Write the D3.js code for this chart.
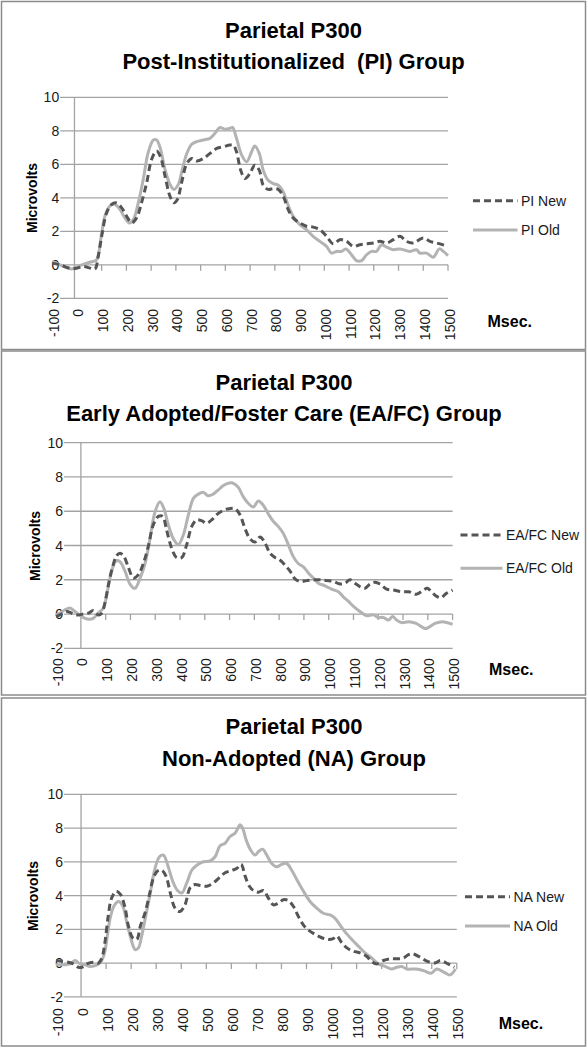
<!DOCTYPE html>
<html><head><meta charset="utf-8">
<script src="https://cdn.jsdelivr.net/npm/d3@7"></script>
<style>html,body{margin:0;padding:0;background:#fff;}svg{display:block;}</style>
</head><body><svg id="c" width="588" height="1050"></svg>
<script>
// ---- data (ms, microvolts) ----
const xTicks = [-100,0,100,200,300,400,500,600,700,800,900,1000,1100,1200,1300,1400,1500];
const yTicks = [-2,0,2,4,6,8,10];
const titles = [
  ["Parietal P300","Post-Institutionalized  (PI) Group"],
  ["Parietal P300","Early Adopted/Foster Care (EA/FC) Group"],
  ["Parietal P300","Non-Adopted (NA) Group"]
];
const seriesNames = [["PI New","PI Old"],["EA/FC New","EA/FC Old"],["NA New","NA Old"]];

const piNew = [[-100,0.1],[-69,0],[-28,-0.2],[-1,-0.2],[26,-0.1],[53,-0.2],[73,-0.25],[86,0.5],[100,1.7],[120,3.1],[140,3.6],[158,3.7],[181,3.4],[201,2.9],[221,2.5],[241,2.8],[261,3.7],[282,4.9],[302,6.3],[322,6.8],[338,6.45],[356,5.3],[376,4.1],[392,3.7],[406,3.9],[423,4.9],[443,6.0],[464,6.35],[484,6.2],[511,6.35],[538,6.65],[565,6.95],[592,7.05],[619,7.15],[632,7.15],[645,6.75],[662,5.65],[679,5.15],[699,5.45],[719,5.95],[737,5.65],[753,4.75],[773,4.5],[794,4.55],[814,4.5],[834,4.1],[854,3.3],[874,2.8],[901,2.5],[928,2.3],[955,2.25],[982,2.1],[1009,1.7],[1036,1.25],[1063,1.5],[1090,1.4],[1117,1.1],[1144,1.2],[1171,1.25],[1198,1.3],[1225,1.4],[1252,1.3],[1279,1.5],[1306,1.7],[1332,1.4],[1359,1.3],[1400,1.6],[1427,1.4],[1454,1.3],[1500,1.1]];
const piOld = [[-100,0.2],[-69,0],[-22,-0.25],[12,-0.05],[39,0.1],[66,0.2],[80,0.3],[100,1.9],[113,2.9],[133,3.5],[154,3.6],[174,3.3],[194,2.8],[212,2.5],[228,2.7],[248,3.7],[268,5.1],[288,6.7],[309,7.45],[322,7.45],[336,7.0],[356,5.7],[376,4.8],[392,4.5],[410,4.8],[423,5.5],[443,6.6],[464,7.2],[484,7.35],[511,7.45],[538,7.55],[558,7.85],[578,8.2],[598,8.1],[619,8.15],[629,8.2],[645,7.55],[666,6.55],[686,6.15],[706,6.75],[719,7.1],[737,6.65],[753,5.65],[773,5.05],[794,4.85],[814,4.75],[834,4.35],[854,3.55],[874,2.9],[901,2.4],[928,2.1],[955,1.7],[982,1.4],[1009,1.1],[1029,0.7],[1050,0.8],[1070,0.8],[1087,0.95],[1110,0.6],[1130,0.25],[1151,0.25],[1171,0.6],[1191,0.8],[1211,0.8],[1231,1.2],[1252,1.05],[1279,0.9],[1306,0.95],[1346,0.8],[1373,0.9],[1386,0.7],[1413,0.7],[1440,0.45],[1465,0.95],[1481,0.8],[1500,0.55]];
const eaNew = [[-100,-0.15],[-78,0],[-57,0.15],[-37,0.05],[-17,-0.05],[10,0],[30,0.05],[50,0.2],[70,-0.05],[84,0.05],[97,0.65],[111,1.7],[128,2.75],[144,3.4],[158,3.55],[174,3.35],[191,2.75],[212,2.1],[232,2.3],[252,2.95],[272,3.95],[292,5.2],[313,5.7],[330,5.7],[346,4.9],[366,3.85],[386,3.3],[407,3.3],[427,4.05],[447,5.1],[467,5.5],[487,5.45],[508,5.3],[528,5.5],[548,5.8],[575,6.05],[599,6.15],[622,6.15],[642,5.8],[662,5.0],[682,4.4],[703,4.2],[723,4.5],[743,4.15],[763,3.55],[783,3.3],[803,3.15],[824,2.85],[844,2.5],[864,2.05],[884,1.9],[911,1.95],[938,2.0],[965,2.0],[992,1.95],[1019,1.9],[1046,1.75],[1066,1.8],[1086,2.0],[1106,1.8],[1126,1.6],[1146,1.5],[1167,1.75],[1187,1.85],[1207,1.75],[1234,1.45],[1261,1.4],[1294,1.3],[1323,1.3],[1353,1.15],[1383,1.4],[1398,1.5],[1429,1.1],[1452,0.95],[1474,1.2],[1500,1.4]];
const eaOld = [[-100,-0.05],[-84,0.05],[-64,0.25],[-44,0.35],[-24,0.15],[3,-0.15],[30,-0.3],[50,-0.25],[70,0.05],[91,0.35],[104,1.1],[124,2.5],[142,3.1],[158,3.05],[178,2.5],[198,1.75],[218,1.5],[239,2.1],[259,2.95],[279,4.4],[299,5.95],[319,6.55],[335,6.15],[353,5.2],[373,4.4],[393,4.05],[413,4.6],[434,5.8],[454,6.75],[474,7.0],[494,7.1],[514,6.9],[534,7.0],[555,7.25],[575,7.5],[599,7.65],[612,7.65],[635,7.4],[655,6.85],[676,6.45],[696,6.25],[716,6.6],[736,6.35],[756,5.85],[777,5.4],[797,5.1],[817,4.7],[837,4.05],[857,3.35],[877,2.95],[898,2.75],[918,2.4],[938,2.1],[958,1.8],[985,1.65],[1012,1.45],[1039,1.3],[1059,1.0],[1079,0.75],[1100,0.45],[1126,0.15],[1153,-0.1],[1180,-0.05],[1200,-0.2],[1220,-0.2],[1241,-0.35],[1258,-0.15],[1274,-0.35],[1294,-0.5],[1323,-0.45],[1353,-0.55],[1391,-0.85],[1429,-0.55],[1459,-0.45],[1500,-0.6]];
const naNew = [[-100,0.15],[-51,0.05],[-31,-0.05],[-11,-0.25],[3,-0.25],[23,-0.05],[49,0.05],[69,0],[83,0.3],[96,1.3],[109,2.85],[122,3.85],[140,4.25],[158,4.05],[176,3.25],[189,2.2],[206,1.5],[222,1.4],[238,2.25],[255,2.95],[273,4.05],[289,5.05],[305,5.45],[322,5.5],[339,5.15],[358,4.05],[375,3.25],[395,3.05],[415,3.45],[435,4.45],[455,4.65],[475,4.6],[502,4.55],[528,4.75],[555,5.1],[575,5.35],[602,5.5],[621,5.6],[639,5.85],[655,5.15],[672,4.55],[688,4.3],[708,4.2],[728,4.3],[748,3.85],[768,3.45],[788,3.55],[808,3.75],[828,3.7],[848,3.35],[868,2.75],[888,2.25],[908,1.95],[934,1.7],[961,1.5],[987,1.4],[1007,1.45],[1021,1.6],[1041,1.2],[1061,0.9],[1087,0.7],[1114,0.6],[1140,0.4],[1160,0.1],[1180,-0.05],[1207,0.15],[1234,0.25],[1260,0.25],[1287,0.3],[1307,0.5],[1323,0.55],[1353,0.35],[1383,0.1],[1413,0.0],[1435,0.15],[1465,-0.05],[1490,-0.25]];
const naOld = [[-100,-0.1],[-64,-0.1],[-44,-0.05],[-24,0.15],[-4,-0.05],[16,-0.1],[36,-0.2],[56,-0.15],[76,0],[92,0.5],[102,1.3],[116,2.65],[132,3.4],[149,3.65],[166,3.4],[182,2.45],[198,1.5],[216,0.8],[229,0.9],[242,1.6],[259,2.85],[275,4.05],[295,5.6],[313,6.3],[329,6.4],[346,5.8],[366,4.85],[385,4.3],[402,4.15],[422,4.75],[442,5.5],[462,5.8],[488,6.0],[515,6.05],[535,6.3],[555,6.95],[575,7.1],[595,7.5],[615,7.7],[635,8.2],[645,8.0],[659,7.3],[677,6.7],[695,6.4],[708,6.6],[725,6.75],[741,6.4],[761,5.9],[781,5.7],[801,5.85],[821,5.9],[841,5.5],[861,4.95],[888,4.25],[914,3.65],[941,3.25],[967,2.95],[994,2.85],[1014,2.65],[1034,2.25],[1054,1.85],[1081,1.4],[1107,1.0],[1134,0.6],[1160,0.3],[1187,-0.05],[1214,-0.2],[1240,-0.35],[1260,-0.25],[1280,-0.2],[1300,-0.35],[1338,-0.35],[1368,-0.45],[1398,-0.6],[1420,-0.35],[1450,-0.55],[1473,-0.7],[1495,-0.35]];
const panelData = [[piNew,piOld],[eaNew,eaOld],[naNew,naOld]];

// ---- layout ----
const panels = [
  {box:[1.5,1.5,584,348], xr:[52.2,448], yr:[298.3,97.3], yAxisAt:-10, titleX:293.5, titleY:[37.7,69], microX:37, microY:198, legX:[473,517.5], legY:[200.7,230], msec:[487.5,327], labTop:309},
  {box:[1.5,351,584,344], xr:[56.1,452.6], yr:[648.3,442.7], yAxisAt:0, titleX:284, titleY:[390,421], microX:39.5, microY:546, legX:[460.5,502.5], legY:[535,568.3], msec:[489,675], labTop:658.3},
  {box:[1.5,698,584,348], xr:[56,456.8], yr:[996.8,794.3], yAxisAt:0, titleX:294, titleY:[734.3,765.7], microX:38, microY:896, legX:[465,510], legY:[896.7,926], msec:[498.7,1029.3], labTop:1008.3}
];
const gridColor = "#a3a3a3", newColor = "#555555", oldColor = "#b3b3b3", textColor = "#1a1a1a";
const FONT = "'Liberation Sans', Arial, sans-serif";

const svg = d3.select("#c");
panels.forEach((p, i) => {
  const g = svg.append("g");
  g.append("rect").attr("x",p.box[0]).attr("y",p.box[1]).attr("width",p.box[2]).attr("height",p.box[3])
    .attr("fill","#fff").attr("stroke","#8c8c8c").attr("stroke-width",1.5);
  const x = d3.scaleLinear().domain([-100,1500]).range(p.xr);
  const y = d3.scaleLinear().domain([-2,10]).range(p.yr);
  const gx0 = x(-100) + 8;
  // gridlines
  g.selectAll("line.grid").data(yTicks).join("line")
    .attr("x1",gx0).attr("x2",x(1500)).attr("y1",d=>y(d)).attr("y2",d=>y(d))
    .attr("stroke",gridColor).attr("stroke-width",1.3);
  // vertical axis
  g.append("line").attr("x1",x(p.yAxisAt)).attr("x2",x(p.yAxisAt)).attr("y1",y(10)).attr("y2",y(-2))
    .attr("stroke",gridColor).attr("stroke-width",1.3);
  // tick marks on zero line
  g.selectAll("line.tk").data(xTicks.filter(t=>t>0)).join("line")
    .attr("x1",d=>x(d)).attr("x2",d=>x(d)).attr("y1",y(0)).attr("y2",y(0)+6)
    .attr("stroke",gridColor).attr("stroke-width",1.3);
  // y labels
  g.selectAll("text.yl").data(yTicks).join("text")
    .attr("x",gx0-1).attr("y",d=>y(d)).attr("dy","0.36em").attr("text-anchor","end")
    .attr("font-family",FONT).attr("font-size",14).attr("fill",textColor).text(d=>d);
  // x labels (rotated)
  g.selectAll("text.xl").data(xTicks).join("text")
    .attr("transform",d=>`translate(${x(d)+1.5},${p.labTop}) rotate(-90)`)
    .attr("dy","0.36em").attr("text-anchor","end")
    .attr("font-family",FONT).attr("font-size",14).attr("fill",textColor).text(d=>d);
  // series
  const line = d3.line().x(d=>x(d[0])).y(d=>y(d[1])).curve(d3.curveCatmullRom.alpha(0.5));
  const [nw, od] = panelData[i];
  g.append("path").datum(od).attr("d",line).attr("fill","none").attr("stroke",oldColor).attr("stroke-width",3);
  g.append("path").datum(nw).attr("d",line).attr("fill","none").attr("stroke",newColor).attr("stroke-width",3)
    .attr("stroke-dasharray","7,4");
  // titles
  titles[i].forEach((t,k)=>{
    g.append("text").attr("x",p.titleX).attr("y",p.titleY[k]).attr("text-anchor","middle")
      .attr("font-family",FONT).attr("font-weight","bold").attr("font-size",22).attr("fill","#000")
      .attr("xml:space","preserve").style("white-space","pre").text(t);
  });
  // y title
  g.append("text").attr("transform",`translate(${p.microX},${p.microY}) rotate(-90)`)
    .attr("text-anchor","middle").attr("font-family",FONT).attr("font-weight","bold").attr("font-size",14)
    .attr("fill","#000").text("Microvolts");
  // x title
  g.append("text").attr("x",p.msec[0]).attr("y",p.msec[1]).attr("font-family",FONT).attr("font-weight","bold")
    .attr("font-size",16).attr("fill","#000").text("Msec.");
  // legend
  seriesNames[i].forEach((nm,k)=>{
    g.append("line").attr("x1",p.legX[0]).attr("x2",p.legX[1]).attr("y1",p.legY[k]).attr("y2",p.legY[k])
      .attr("stroke",k===0?newColor:oldColor).attr("stroke-width",3)
      .attr("stroke-dasharray",k===0?"7,4":null);
    g.append("text").attr("x",p.legX[1]+3.5).attr("y",p.legY[k]).attr("dy","0.36em")
      .attr("font-family",FONT).attr("font-size",14).attr("fill",textColor).text(nm);
  });
});
</script></body></html>
